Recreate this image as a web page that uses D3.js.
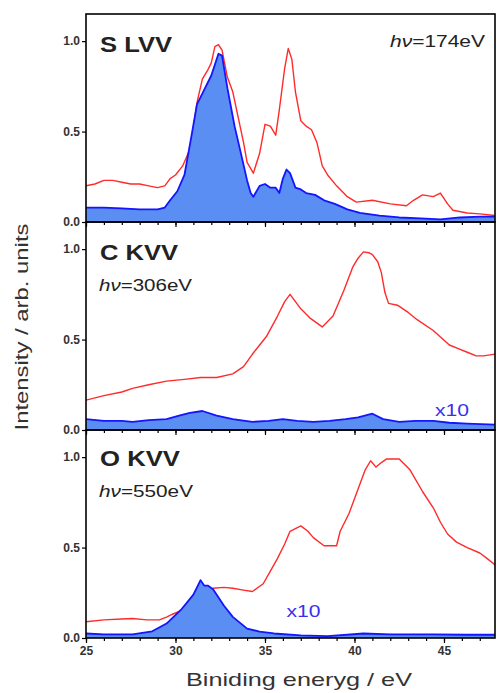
<!DOCTYPE html>
<html>
<head>
<meta charset="utf-8">
<script src="https://cdn.jsdelivr.net/npm/d3@7"></script>
<style>
  html, body { margin: 0; padding: 0; background: #fff; }
  svg { display: block; font-family: Arial, "Liberation Sans", sans-serif; }
  .tick text { font-size: 12px; font-weight: bold; fill: #333; }
  .domain { display: none; }
</style>
</head>
<body>
<svg id="chart" width="497" height="693"></svg>
<script>
// Auger spectra: [binding energy (eV), intensity]
const panelNames = ["S LVV", "C KVV", "O KVV"];
const photonEnergies = ["174eV", "306eV", "550eV"];
const yTicks = [0, 0.5, 1.0];
const xMajorTicks = [25, 30, 35, 40, 45];

const sRed = [[25.0,0.20],[25.5,0.21],[26.0,0.23],[26.5,0.23],[27.0,0.22],[27.5,0.21],[28.0,0.21],[28.5,0.20],[29.0,0.19],[29.4,0.20],[29.7,0.24],[30.0,0.26],[30.4,0.31],[30.8,0.40],[31.0,0.52],[31.2,0.66],[31.5,0.79],[31.8,0.84],[32.0,0.88],[32.2,0.97],[32.4,0.98],[32.6,0.95],[32.9,0.80],[33.2,0.72],[33.5,0.58],[33.8,0.44],[34.0,0.33],[34.35,0.27],[34.7,0.38],[35.0,0.54],[35.3,0.53],[35.6,0.48],[35.8,0.62],[36.1,0.85],[36.3,0.96],[36.5,0.90],[36.7,0.72],[37.0,0.56],[37.3,0.53],[37.6,0.51],[37.9,0.44],[38.2,0.31],[38.5,0.26],[39.0,0.20],[39.6,0.14],[40.1,0.11],[41.0,0.12],[42.0,0.10],[42.9,0.09],[43.3,0.12],[43.8,0.15],[44.4,0.14],[44.8,0.16],[45.2,0.10],[45.5,0.065],[46.3,0.05],[47.0,0.045],[47.9,0.035]];
const sBlue = [[25.0,0.08],[26.0,0.08],[27.0,0.075],[28.0,0.07],[29.0,0.07],[29.4,0.08],[29.7,0.12],[30.1,0.17],[30.5,0.26],[30.9,0.48],[31.2,0.65],[31.6,0.73],[32.0,0.81],[32.4,0.93],[32.6,0.92],[32.9,0.74],[33.3,0.53],[33.7,0.36],[34.0,0.23],[34.2,0.16],[34.35,0.14],[34.7,0.20],[35.0,0.21],[35.3,0.19],[35.6,0.19],[35.8,0.16],[36.0,0.24],[36.2,0.29],[36.4,0.27],[36.7,0.19],[37.0,0.18],[37.3,0.16],[37.8,0.15],[38.3,0.12],[38.9,0.10],[39.6,0.07],[40.3,0.05],[41.4,0.035],[42.5,0.025],[43.7,0.02],[44.8,0.015],[45.9,0.025],[47.0,0.03],[47.9,0.03]];

const cRed = [[25.0,0.165],[26.0,0.19],[27.0,0.21],[27.6,0.23],[28.5,0.25],[29.5,0.27],[30.5,0.28],[31.4,0.29],[32.3,0.29],[33.2,0.31],[33.8,0.35],[34.3,0.42],[34.7,0.47],[35.1,0.52],[35.7,0.63],[36.1,0.71],[36.4,0.75],[36.7,0.71],[37.0,0.67],[37.5,0.62],[38.2,0.57],[38.8,0.63],[39.4,0.77],[39.9,0.90],[40.2,0.95],[40.5,0.985],[40.8,0.98],[41.0,0.97],[41.3,0.93],[41.5,0.87],[41.7,0.76],[41.9,0.70],[42.4,0.69],[43.0,0.65],[43.5,0.61],[44.4,0.55],[45.3,0.47],[45.8,0.45],[46.3,0.43],[46.8,0.41],[47.2,0.41],[47.9,0.42]];
const cBlue = [[25.0,0.06],[26.0,0.05],[27.0,0.05],[27.6,0.045],[28.5,0.055],[29.5,0.06],[30.2,0.08],[30.8,0.095],[31.5,0.105],[32.3,0.08],[33.2,0.06],[34.3,0.045],[35.2,0.05],[36.0,0.06],[36.8,0.05],[37.7,0.045],[38.6,0.05],[39.5,0.06],[40.2,0.07],[41.0,0.09],[41.6,0.06],[42.5,0.045],[43.4,0.05],[44.4,0.05],[45.3,0.04],[46.3,0.035],[47.9,0.03]];

const oRed = [[25.0,0.09],[26.0,0.10],[27.0,0.105],[27.6,0.108],[28.4,0.10],[29.1,0.10],[29.5,0.115],[29.8,0.13],[30.5,0.16],[31.3,0.22],[32.1,0.275],[32.7,0.28],[33.2,0.275],[33.8,0.265],[34.3,0.257],[34.9,0.30],[35.3,0.37],[35.7,0.44],[36.1,0.52],[36.4,0.59],[37.0,0.62],[37.4,0.59],[37.7,0.555],[38.3,0.51],[39.0,0.51],[39.2,0.59],[39.7,0.69],[40.3,0.85],[40.6,0.93],[40.9,0.98],[41.2,0.945],[41.5,0.97],[41.8,0.99],[42.5,0.99],[43.1,0.93],[43.8,0.81],[44.4,0.72],[44.8,0.64],[45.2,0.575],[45.7,0.53],[46.3,0.50],[47.0,0.47],[47.4,0.44],[47.9,0.40]];
const oBlue = [[25.0,0.025],[26.0,0.02],[27.6,0.02],[28.7,0.037],[29.5,0.08],[30.3,0.155],[31.0,0.24],[31.4,0.32],[31.6,0.29],[31.8,0.29],[32.1,0.27],[32.7,0.18],[33.2,0.117],[34.0,0.052],[34.7,0.035],[35.5,0.025],[37.0,0.015],[38.5,0.01],[40.5,0.025],[42.0,0.02],[44.4,0.02],[46.3,0.018],[47.9,0.018]];

const redSeries = [sRed, cRed, oRed];
const blueSeries = [sBlue, cBlue, oBlue];
const x10Marks = [null, 44.5, 36.2]; // eV position of the "x10" note

const margin = { left: 86, right: 2, top: 14 };
const panelH = 208;
const width = 497, height = 693;
const innerW = width - margin.left - margin.right;

const svg = d3.select("#chart");

const x = d3.scaleLinear().domain([25, 47.85]).range([0, innerW]);
const y = d3.scaleLinear().domain([0, 1.15]).range([panelH, 0]);

const line = d3.line().x((d) => x(d[0])).y((d) => y(d[1]));
const area = d3.area().x((d) => x(d[0])).y0(y(0)).y1((d) => y(d[1]));

// stretch text to the width measured on the figure
function fit(sel, w) {
  sel.attr("textLength", w).attr("lengthAdjust", "spacingAndGlyphs");
  return sel;
}

svg.append("defs").append("clipPath").attr("id", "clip")
  .append("rect").attr("width", innerW).attr("height", panelH);

panelNames.forEach((name, i) => {
  const g = svg.append("g")
    .attr("transform", `translate(${margin.left},${margin.top + i * panelH})`);

  const plot = g.append("g").attr("clip-path", "url(#clip)");

  plot.append("path")
    .datum(redSeries[i])
    .attr("d", line)
    .attr("fill", "none")
    .attr("stroke", "#ff2a2a")
    .attr("stroke-width", 1.4)
    .attr("stroke-linejoin", "round");

  plot.append("path")
    .datum(blueSeries[i])
    .attr("d", area)
    .attr("fill", "#5b8ef2");

  plot.append("path")
    .datum(blueSeries[i])
    .attr("d", line)
    .attr("fill", "none")
    .attr("stroke", "#1414ff")
    .attr("stroke-width", 1.8)
    .attr("stroke-linejoin", "round");

  // y axis
  g.append("g")
    .call(d3.axisLeft(y).tickValues(yTicks).tickFormat(d3.format(".1f")).tickSize(4).tickPadding(2))
    .call((a) => a.selectAll("line").attr("stroke", "#000").attr("stroke-width", 1.2));

  // x axis: minor every eV, major every 5
  const xa = g.append("g").attr("transform", `translate(0,${panelH})`);
  xa.append("g")
    .call(d3.axisBottom(x).tickValues(d3.range(25, 48)).tickFormat("").tickSize(3))
    .call((a) => a.selectAll("line").attr("stroke", "#000").attr("stroke-width", 1.2));
  xa.append("g")
    .call(d3.axisBottom(x).tickValues(xMajorTicks)
      .tickFormat(i === 2 ? d3.format("d") : "").tickSize(5).tickPadding(3))
    .call((a) => a.selectAll("line").attr("stroke", "#000").attr("stroke-width", 1.2))
    .call((a) => a.selectAll("text").attr("font-size", 13.5));

  // frame
  g.append("rect")
    .attr("width", innerW)
    .attr("height", panelH)
    .attr("fill", "none")
    .attr("stroke", "#000")
    .attr("stroke-width", 1.6);

  // labels
  const labelW = [72, 78, 80];
  fit(g.append("text")
    .attr("x", 14)
    .attr("y", i === 2 ? 36 : 38)
    .attr("font-size", 22)
    .attr("font-weight", "bold")
    .attr("fill", "#222")
    .text(name), labelW[i]);

  const hv = g.append("text")
    .attr("font-size", 17)
    .attr("fill", "#222");
  if (i === 0) {
    hv.attr("x", innerW - 10).attr("y", 33).attr("text-anchor", "end");
  } else {
    hv.attr("x", 13).attr("y", i === 2 ? 67 : 69);
  }
  hv.append("tspan").attr("font-style", "italic").text("hν");
  hv.append("tspan").text("=" + photonEnergies[i]);
  fit(hv, [95, 93, 94][i]);

  if (x10Marks[i] !== null) {
    fit(g.append("text")
      .attr("x", x(x10Marks[i]))
      .attr("y", i === 1 ? 194 : 187)
      .attr("font-size", 16)
      .attr("fill", "#3a2ff0")
      .text("x10"), 34);
  }
});

// axis titles
fit(svg.append("text")
  .attr("transform", "translate(28,327) rotate(-90)")
  .attr("text-anchor", "middle")
  .attr("font-size", 18)
  .attr("fill", "#333")
  .text("Intensity / arb. units"), 207);

fit(svg.append("text")
  .attr("x", 299)
  .attr("y", 686)
  .attr("text-anchor", "middle")
  .attr("font-size", 19)
  .attr("fill", "#333")
  .text("Biniding eneryg / eV"), 226);
</script>
</body>
</html>
